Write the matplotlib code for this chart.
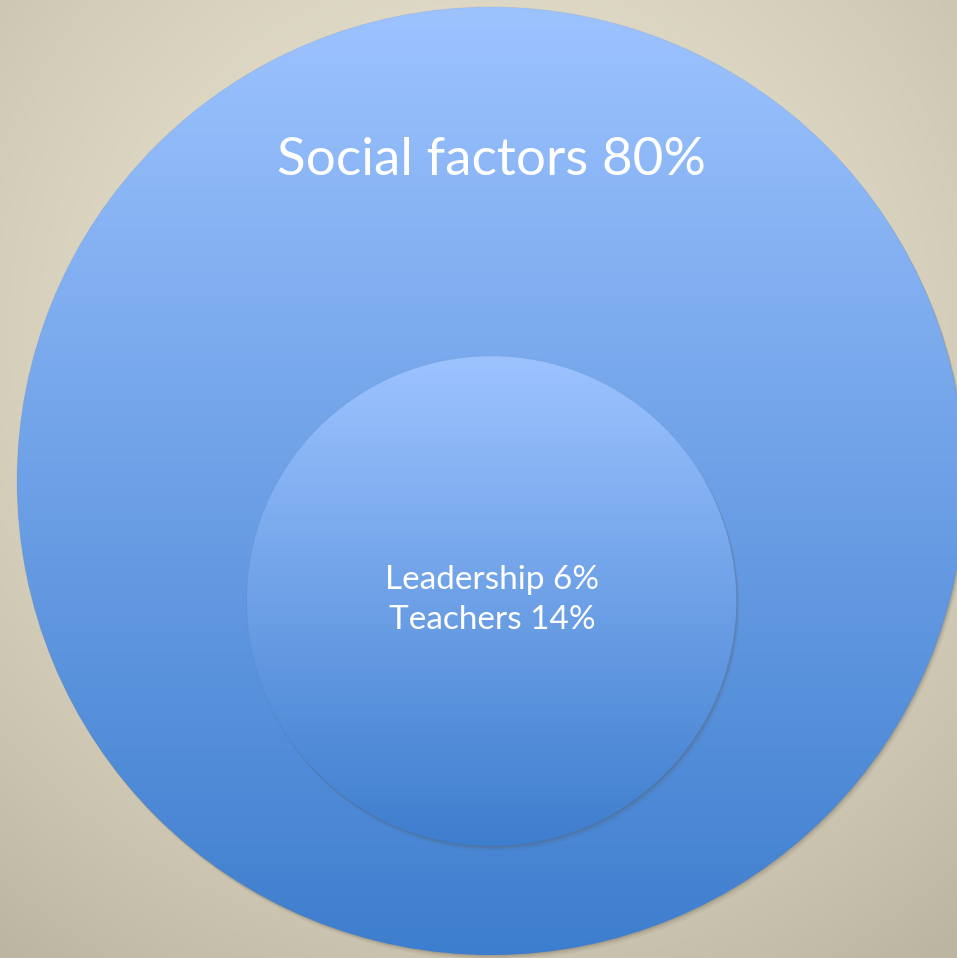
import matplotlib
matplotlib.use("Agg")
import matplotlib.pyplot as plt
import numpy as np
from matplotlib.patches import Circle

# chart values
labels = ["Social factors", "Leadership", "Teachers"]
shares = [80, 6, 14]

W, H = 957, 958
top_blue = np.array([157, 195, 255]) / 255
bot_blue = np.array([62, 126, 206]) / 255


def gradient_circle(ax, cx, cy, r, z):
    # soft shadow down-right
    for k, a in zip([5, 3, 1.5], [0.07, 0.1, 0.15]):
        ax.add_patch(Circle((cx + k * 0.6, cy + k), r, color=(0.35, 0.32, 0.25), alpha=a, lw=0, zorder=z))
    t = np.linspace(0, 1, 256)[:, None, None]
    img = top_blue * (1 - t) + bot_blue * t
    clip = Circle((cx, cy), r, transform=ax.transData, facecolor="none", edgecolor="none")
    ax.add_patch(clip)
    im = ax.imshow(img, extent=(cx - r, cx + r, cy + r, cy - r), aspect="auto", zorder=z + 0.5, interpolation="bilinear")
    im.set_clip_path(clip)
    ax.add_patch(Circle((cx, cy), r, fill=False, edgecolor=(0.3, 0.45, 0.7), alpha=0.15, lw=0.6, zorder=z + 0.6))


fig = plt.figure(figsize=(W / 100, H / 100), dpi=100)
ax = fig.add_axes([0, 0, 1, 1])
ax.set_xlim(0, W)
ax.set_ylim(H, 0)
ax.axis("off")

# beige background, lighter toward the upper middle
yy, xx = np.mgrid[0:H, 0:W]
d = np.clip(np.hypot(xx - 470, yy - 330) / 780, 0, 1)
light = np.array([232, 227, 208]) / 255
dark = np.array([188, 181, 161]) / 255
bg = light * (1 - d[..., None] ** 1.6) + dark * d[..., None] ** 1.6
ax.imshow(bg, extent=(0, W, H, 0), aspect="auto", zorder=0)

gradient_circle(ax, 491, 481, 474, 1)
gradient_circle(ax, 491.5, 601, 245, 3)

ax.text(491, 160, f"{labels[0]} {shares[0]}%", color="white", fontsize=38.2,
        family="Lato", ha="center", va="center", zorder=10)
ax.text(492, 580, f"{labels[1]} {shares[1]}%", color="white",
        fontsize=24, family="Lato", ha="center", va="center", zorder=10)
ax.text(492, 620, f"{labels[2]} {shares[2]}%", color="white",
        fontsize=24, family="Lato", ha="center", va="center", zorder=10)

fig.savefig("out.png", dpi=100)
